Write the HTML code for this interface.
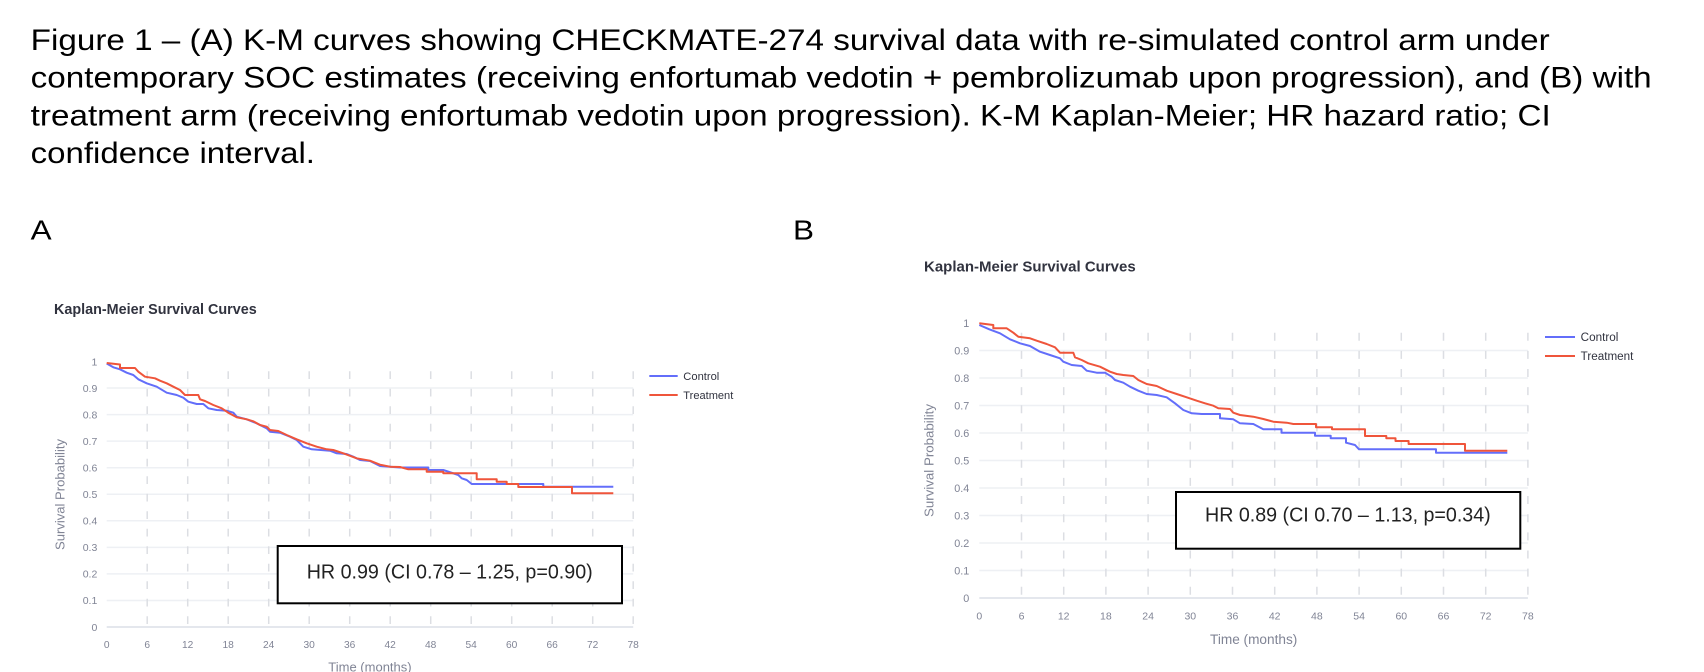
<!DOCTYPE html>
<html>
<head>
<meta charset="utf-8">
<style>
  html, body { margin: 0; padding: 0; background: #ffffff; }
  svg { display: block; }
  .cap { font-family: "Liberation Sans", Arial, sans-serif; fill: #000; }
  .tick { font-family: "Liberation Sans", Arial, sans-serif; fill: #808495; }
  .ttl { font-family: "Liberation Sans", Arial, sans-serif; font-weight: bold; fill: #31333f; }
  .leg { font-family: "Liberation Sans", Arial, sans-serif; fill: #31333f; }
  .hr { font-family: "Liberation Sans", Arial, sans-serif; fill: #222; }
  .hg { stroke: #eef0f4; stroke-width: 1.5; }
  .zl { stroke: #e4e7ed; stroke-width: 2; }
  .vgA { stroke: #dcdee3; stroke-width: 1.5; stroke-dasharray: 7.7 9.8; }
  .vgB { stroke: #dcdee3; stroke-width: 1.5; stroke-dasharray: 8 10.15; }
  .ctl { fill: none; stroke: #636efa; stroke-width: 2; stroke-linejoin: round; }
  .trt { fill: none; stroke: #ef553b; stroke-width: 2; stroke-linejoin: round; }
</style>
</head>
<body>
<svg width="1704" height="672" viewBox="0 0 1704 672" xmlns="http://www.w3.org/2000/svg">
  <rect x="0" y="0" width="1704" height="672" fill="#ffffff"/>

  <!-- Caption -->
  <text class="cap" x="30.7" y="50" font-size="30" textLength="1519" lengthAdjust="spacingAndGlyphs">Figure 1 – (A) K-M curves showing CHECKMATE-274 survival data with re-simulated control arm under</text>
  <text class="cap" x="30.7" y="87.7" font-size="30" textLength="1621" lengthAdjust="spacingAndGlyphs">contemporary SOC estimates (receiving enfortumab vedotin + pembrolizumab upon progression), and (B) with</text>
  <text class="cap" x="30.7" y="125.4" font-size="30" textLength="1520" lengthAdjust="spacingAndGlyphs">treatment arm (receiving enfortumab vedotin upon progression). K-M Kaplan-Meier; HR hazard ratio; CI</text>
  <text class="cap" x="30.7" y="163.1" font-size="30" textLength="284.3" lengthAdjust="spacingAndGlyphs">confidence interval.</text>

  <text class="cap" x="30.7" y="239.3" font-size="28" textLength="21" lengthAdjust="spacingAndGlyphs">A</text>
  <text class="cap" x="793" y="239.3" font-size="28" textLength="21" lengthAdjust="spacingAndGlyphs">B</text>

  <!-- ================= CHART A ================= -->
  <text class="ttl" x="54" y="314" font-size="14.4" textLength="202.7" lengthAdjust="spacingAndGlyphs">Kaplan-Meier Survival Curves</text>

  <g>
    <line class="hg" x1="106.7" x2="633.2" y1="600.45" y2="600.45"/>
    <line class="hg" x1="106.7" x2="633.2" y1="573.9" y2="573.9"/>
    <line class="hg" x1="106.7" x2="633.2" y1="547.35" y2="547.35"/>
    <line class="hg" x1="106.7" x2="633.2" y1="520.8" y2="520.8"/>
    <line class="hg" x1="106.7" x2="633.2" y1="494.25" y2="494.25"/>
    <line class="hg" x1="106.7" x2="633.2" y1="467.7" y2="467.7"/>
    <line class="hg" x1="106.7" x2="633.2" y1="441.15" y2="441.15"/>
    <line class="hg" x1="106.7" x2="633.2" y1="414.6" y2="414.6"/>
    <line class="hg" x1="106.7" x2="633.2" y1="388.05" y2="388.05"/>
    <line class="zl" x1="106.7" x2="633.2" y1="627" y2="627"/>
  </g>
  <g>
    <line class="vgA" x1="147.2" x2="147.2" y1="371.3" y2="627"/>
    <line class="vgA" x1="187.7" x2="187.7" y1="371.3" y2="627"/>
    <line class="vgA" x1="228.2" x2="228.2" y1="371.3" y2="627"/>
    <line class="vgA" x1="268.7" x2="268.7" y1="371.3" y2="627"/>
    <line class="vgA" x1="309.2" x2="309.2" y1="371.3" y2="627"/>
    <line class="vgA" x1="349.7" x2="349.7" y1="371.3" y2="627"/>
    <line class="vgA" x1="390.2" x2="390.2" y1="371.3" y2="627"/>
    <line class="vgA" x1="430.7" x2="430.7" y1="371.3" y2="627"/>
    <line class="vgA" x1="471.2" x2="471.2" y1="371.3" y2="627"/>
    <line class="vgA" x1="511.7" x2="511.7" y1="371.3" y2="627"/>
    <line class="vgA" x1="552.2" x2="552.2" y1="371.3" y2="627"/>
    <line class="vgA" x1="592.7" x2="592.7" y1="371.3" y2="627"/>
    <line class="vgA" x1="633.2" x2="633.2" y1="371.3" y2="627"/>
  </g>

  <g class="tick" font-size="10.5" text-anchor="end">
    <text x="97.3" y="365.3">1</text>
    <text x="97.3" y="391.8">0.9</text>
    <text x="97.3" y="418.4">0.8</text>
    <text x="97.3" y="444.9">0.7</text>
    <text x="97.3" y="471.5">0.6</text>
    <text x="97.3" y="498">0.5</text>
    <text x="97.3" y="524.6">0.4</text>
    <text x="97.3" y="551.1">0.3</text>
    <text x="97.3" y="577.7">0.2</text>
    <text x="97.3" y="604.2">0.1</text>
    <text x="97.3" y="630.8">0</text>
  </g>
  <g class="tick" font-size="10.2" text-anchor="middle">
    <text x="106.7" y="647.8">0</text>
    <text x="147.2" y="647.8">6</text>
    <text x="187.7" y="647.8">12</text>
    <text x="228.2" y="647.8">18</text>
    <text x="268.7" y="647.8">24</text>
    <text x="309.2" y="647.8">30</text>
    <text x="349.7" y="647.8">36</text>
    <text x="390.2" y="647.8">42</text>
    <text x="430.7" y="647.8">48</text>
    <text x="471.2" y="647.8">54</text>
    <text x="511.7" y="647.8">60</text>
    <text x="552.2" y="647.8">66</text>
    <text x="592.7" y="647.8">72</text>
    <text x="633.2" y="647.8">78</text>
  </g>
  <text class="tick" font-size="12.5" text-anchor="middle" transform="translate(64.5,494.5) rotate(-90)" textLength="111" lengthAdjust="spacingAndGlyphs">Survival Probability</text>
  <text class="tick" font-size="13" x="328.3" y="671.3" textLength="83.3" lengthAdjust="spacingAndGlyphs">Time (months)</text>

  <path class="ctl" d="M106.7,363.5 L113.3,367.3 L120,369.3 L126.7,372.7 L133.3,375 L138.3,379.3 L146.7,383.3 L156.7,386.7 L166.7,392.7 L176.7,395 L183.3,397.7 L188.3,401.7 L196.7,404 H203.3 L208.3,408.3 L216.7,410 L226.7,410.7 L233.3,412.7 L236.7,416.7 L246.7,419.3 L256.7,423.3 L266.7,428.3 L270,431.7 L280,432.7 L290,436.7 L296.7,440 L303.3,446.7 L311.7,449.3 L330,450.7 L336.7,453.3 L346.7,454 L353.3,456.7 L360,460 L370,461 L380,466 L390,466.7 L400,467.5 H428.3 V470 H443.3 L458.3,475 L461.7,478.3 L466.7,480 L471.7,484 H543.3 V486.7 H613.3"/>
  <path class="trt" d="M106.7,363 L120,364.5 V368 H135 L138.3,371.7 L145,376.7 L155,378.3 L160,380.7 L166.7,383.3 L173.3,386.7 L180,390 L185,395 H198.3 L200,399.3 L205,401 L213.3,405 L221.7,408.3 L228.3,412.7 L236.7,417.3 L246.7,419.3 L253.3,421.3 L260,425 L266.7,426.7 L270,430 L278.3,431 L286.7,435 L296.7,439.3 L306.7,443.3 L316.7,446.7 L326.7,449.3 L333.3,450 L343.3,453.3 L356.7,458.3 L370,460.7 L380,464.7 L390,466.7 L400,467 L408.3,469.3 H426.7 V471.7 H443.3 V473.3 H476.7 V479.3 H496.7 V481.7 H506.7 V484 H518.3 V487 H572 V493.3 H613.3"/>

  <line x1="649.3" x2="677.7" y1="376" y2="376" stroke="#636efa" stroke-width="2"/>
  <line x1="649.3" x2="677.7" y1="395" y2="395" stroke="#ef553b" stroke-width="2"/>
  <text class="leg" x="683.3" y="380" font-size="11" textLength="36" lengthAdjust="spacingAndGlyphs">Control</text>
  <text class="leg" x="683.3" y="399" font-size="11" textLength="50" lengthAdjust="spacingAndGlyphs">Treatment</text>

  <rect x="277.7" y="546" width="344.3" height="57.3" fill="#ffffff" stroke="#000" stroke-width="2"/>
  <text class="hr" x="306.7" y="578.3" font-size="20" textLength="286" lengthAdjust="spacingAndGlyphs">HR 0.99 (CI 0.78 – 1.25, p=0.90)</text>

  <!-- ================= CHART B ================= -->
  <text class="ttl" x="924" y="271.7" font-size="15" textLength="211.7" lengthAdjust="spacingAndGlyphs">Kaplan-Meier Survival Curves</text>

  <g>
    <line class="hg" x1="979.3" x2="1527.9" y1="570.5" y2="570.5"/>
    <line class="hg" x1="979.3" x2="1527.9" y1="543" y2="543"/>
    <line class="hg" x1="979.3" x2="1527.9" y1="515.5" y2="515.5"/>
    <line class="hg" x1="979.3" x2="1527.9" y1="488" y2="488"/>
    <line class="hg" x1="979.3" x2="1527.9" y1="460.5" y2="460.5"/>
    <line class="hg" x1="979.3" x2="1527.9" y1="433" y2="433"/>
    <line class="hg" x1="979.3" x2="1527.9" y1="405.5" y2="405.5"/>
    <line class="hg" x1="979.3" x2="1527.9" y1="378" y2="378"/>
    <line class="hg" x1="979.3" x2="1527.9" y1="350.5" y2="350.5"/>
    <line class="zl" x1="979.3" x2="1527.9" y1="598" y2="598"/>
  </g>
  <g>
    <line class="vgB" x1="1021.5" x2="1021.5" y1="332.7" y2="598"/>
    <line class="vgB" x1="1063.7" x2="1063.7" y1="332.7" y2="598"/>
    <line class="vgB" x1="1105.9" x2="1105.9" y1="332.7" y2="598"/>
    <line class="vgB" x1="1148.1" x2="1148.1" y1="332.7" y2="598"/>
    <line class="vgB" x1="1190.3" x2="1190.3" y1="332.7" y2="598"/>
    <line class="vgB" x1="1232.5" x2="1232.5" y1="332.7" y2="598"/>
    <line class="vgB" x1="1274.7" x2="1274.7" y1="332.7" y2="598"/>
    <line class="vgB" x1="1316.9" x2="1316.9" y1="332.7" y2="598"/>
    <line class="vgB" x1="1359.1" x2="1359.1" y1="332.7" y2="598"/>
    <line class="vgB" x1="1401.3" x2="1401.3" y1="332.7" y2="598"/>
    <line class="vgB" x1="1443.5" x2="1443.5" y1="332.7" y2="598"/>
    <line class="vgB" x1="1485.7" x2="1485.7" y1="332.7" y2="598"/>
    <line class="vgB" x1="1527.9" x2="1527.9" y1="332.7" y2="598"/>
  </g>

  <g class="tick" font-size="10.8" text-anchor="end">
    <text x="969.3" y="326.8">1</text>
    <text x="969.3" y="354.3">0.9</text>
    <text x="969.3" y="381.8">0.8</text>
    <text x="969.3" y="409.3">0.7</text>
    <text x="969.3" y="436.8">0.6</text>
    <text x="969.3" y="464.3">0.5</text>
    <text x="969.3" y="491.8">0.4</text>
    <text x="969.3" y="519.3">0.3</text>
    <text x="969.3" y="546.8">0.2</text>
    <text x="969.3" y="574.3">0.1</text>
    <text x="969.3" y="601.8">0</text>
  </g>
  <g class="tick" font-size="10.5" text-anchor="middle">
    <text x="979.3" y="619.5">0</text>
    <text x="1021.5" y="619.5">6</text>
    <text x="1063.7" y="619.5">12</text>
    <text x="1105.9" y="619.5">18</text>
    <text x="1148.1" y="619.5">24</text>
    <text x="1190.3" y="619.5">30</text>
    <text x="1232.5" y="619.5">36</text>
    <text x="1274.7" y="619.5">42</text>
    <text x="1316.9" y="619.5">48</text>
    <text x="1359.1" y="619.5">54</text>
    <text x="1401.3" y="619.5">60</text>
    <text x="1443.5" y="619.5">66</text>
    <text x="1485.7" y="619.5">72</text>
    <text x="1527.9" y="619.5">78</text>
  </g>
  <text class="tick" font-size="13" text-anchor="middle" transform="translate(933.5,460.5) rotate(-90)" textLength="113" lengthAdjust="spacingAndGlyphs">Survival Probability</text>
  <text class="tick" font-size="13.5" x="1210" y="644" textLength="87.3" lengthAdjust="spacingAndGlyphs">Time (months)</text>

  <path class="ctl" d="M979.3,325 L989.3,329.3 L1000,333.3 L1010,339.3 L1020,343.3 L1030,346 L1040,351.7 L1050,355 L1060,358.3 L1063.3,361.7 L1071.7,365 L1081.7,366 L1086.7,370.7 L1096.7,372.7 H1105 L1111.7,376.7 L1115,380 L1123.3,382.7 L1130,386.7 L1138.3,390.7 L1146.7,394 L1156.7,395 L1166.7,397.3 L1175,403.3 L1183.3,410 L1191.7,413.3 L1201.7,414 H1220 V418.3 L1233.3,419.3 L1240,423.3 L1253.3,424 L1263.3,429.3 H1281.5 V432.7 H1315 V435.7 H1330.7 V438.3 H1346 V442.7 L1355,445 L1359,449.3 H1436 V452.7 H1507.3"/>
  <path class="trt" d="M979.3,323.3 L993.3,325 V328.3 H1006.7 L1013.3,332.7 L1018.3,336.7 L1030,338.3 L1036.7,340.7 L1046.7,344 L1055,347.3 L1060,352.7 H1073.3 L1075,357.3 L1081.7,360 L1088.3,363.3 L1100,366.7 L1110,371.7 L1116.7,374 L1123.3,375 L1133.3,376 L1138.3,380 L1146.7,384 L1156.7,386 L1166.7,390.7 L1176.7,394 L1186.7,397.3 L1196.7,400.7 L1205,403.3 L1213.3,405.7 L1218.3,408.3 L1230,409 L1233.3,412.7 L1240,415 L1253.3,416.7 L1263.3,419 L1273.3,421.7 L1286.7,422.7 L1293.3,424 H1316 V427.3 H1332 V429.3 H1365 V436 H1386.3 V438.3 H1395.5 V441 H1408.6 V444 H1465 V450.7 H1507.3"/>

  <line x1="1545" x2="1575" y1="337" y2="337" stroke="#636efa" stroke-width="2"/>
  <line x1="1545" x2="1575" y1="356" y2="356" stroke="#ef553b" stroke-width="2"/>
  <text class="leg" x="1580.7" y="341" font-size="11.5" textLength="37.7" lengthAdjust="spacingAndGlyphs">Control</text>
  <text class="leg" x="1580.7" y="360" font-size="11.5" textLength="52.7" lengthAdjust="spacingAndGlyphs">Treatment</text>

  <rect x="1176" y="492" width="344.3" height="56.7" fill="#ffffff" stroke="#000" stroke-width="2"/>
  <text class="hr" x="1205" y="521.7" font-size="20" textLength="285.7" lengthAdjust="spacingAndGlyphs">HR 0.89 (CI 0.70 – 1.13, p=0.34)</text>
</svg>
</body>
</html>
